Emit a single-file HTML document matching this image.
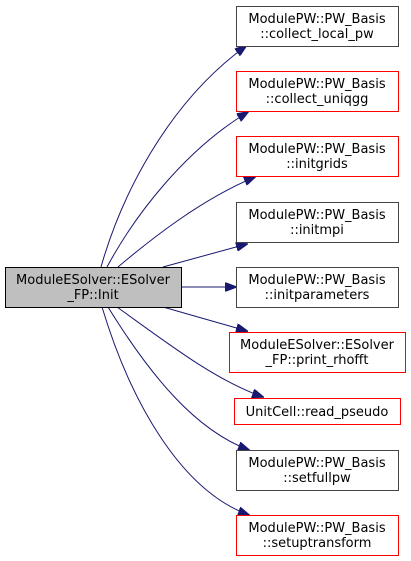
<!DOCTYPE html>
<html><head><meta charset="utf-8"><style>
html,body{margin:0;padding:0;background:#fff;}
svg{display:block;}
text{font-family:"DejaVu Sans","Liberation Sans",sans-serif;font-size:13px;fill:#000;}
</style></head><body>
<svg width="411" height="561" viewBox="0 0 411 561" xmlns="http://www.w3.org/2000/svg">
<defs>
<marker id="a" markerWidth="12" markerHeight="9" refX="11" refY="4.5" orient="auto" markerUnits="userSpaceOnUse">
<path d="M0,0 L12,4.5 L0,9 Z" fill="#191970" stroke="#191970"/>
</marker>
</defs>
<g fill="none" stroke="#191970" stroke-width="1" marker-end="url(#a)">
<path d="M101,267 C120,200 165,105 246,46"/>
<path d="M107,267 C135,215 185,150 248,112"/>
<path d="M118,267 C150,240 200,200 255,177"/>
<path d="M163,267 L247,244"/>
<path d="M181,287 L236,287"/>
<path d="M163,307 L247,331"/>
<path d="M117,307 C170,345 215,380 263,397"/>
<path d="M108,307 C150,375 195,430 249,450"/>
<path d="M102,307 C130,400 180,490 249,515"/>
</g>
<rect x="5.5" y="267.5" width="176" height="40" fill="#bfbfbf" stroke="#000"/>
<text x="93" y="284" text-anchor="middle">ModuleESolver::ESolver</text>
<text x="93" y="299" text-anchor="middle">_FP::Init</text>

<g fill="#fff" stroke-width="1">
<rect x="236.5" y="6.5" width="162" height="40" stroke="#444"/>
<rect x="236.5" y="71.5" width="162" height="40" stroke="#f00"/>
<rect x="236.5" y="136.5" width="162" height="40" stroke="#f00"/>
<rect x="236.5" y="202.5" width="162" height="40" stroke="#444"/>
<rect x="236.5" y="267.5" width="162" height="40" stroke="#444"/>
<rect x="229.5" y="332.5" width="176" height="40" stroke="#f00"/>
<rect x="234.5" y="398.5" width="166" height="26" stroke="#f00"/>
<rect x="236.5" y="450.5" width="162" height="40" stroke="#444"/>
<rect x="236.5" y="515.5" width="162" height="40" stroke="#f00"/>
</g>
<g text-anchor="middle">
<text x="317" y="23">ModulePW::PW_Basis</text><text x="317" y="38">::collect_local_pw</text>
<text x="317" y="88">ModulePW::PW_Basis</text><text x="317" y="103">::collect_uniqgg</text>
<text x="317" y="153">ModulePW::PW_Basis</text><text x="317" y="168">::initgrids</text>
<text x="317" y="219">ModulePW::PW_Basis</text><text x="317" y="234">::initmpi</text>
<text x="317" y="284">ModulePW::PW_Basis</text><text x="317" y="299">::initparameters</text>
<text x="317" y="349">ModuleESolver::ESolver</text><text x="317" y="364">_FP::print_rhofft</text>
<text x="317" y="416">UnitCell::read_pseudo</text>
<text x="317" y="467">ModulePW::PW_Basis</text><text x="317" y="482">::setfullpw</text>
<text x="317" y="532">ModulePW::PW_Basis</text><text x="317" y="547">::setuptransform</text>
</g>
</svg>
</body></html>
